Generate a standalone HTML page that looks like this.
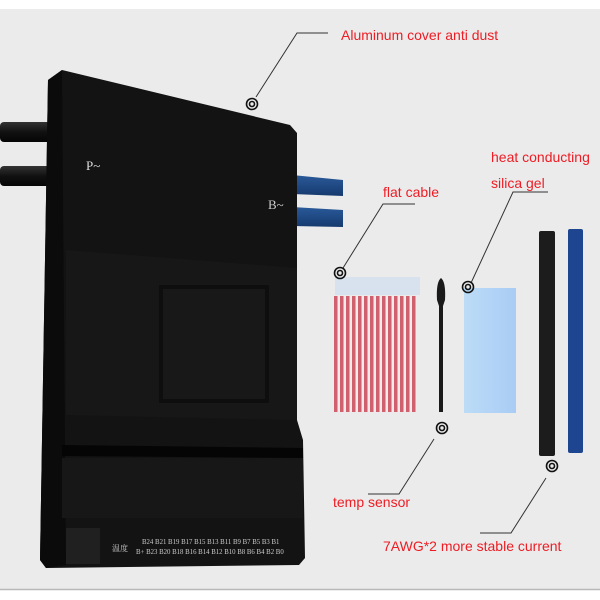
<!DOCTYPE html>
<html><head><meta charset="utf-8"><style>
html,body{margin:0;padding:0;background:#fff}
svg{display:block}
</style></head><body>
<svg width="600" height="600" viewBox="0 0 600 600" xmlns="http://www.w3.org/2000/svg" font-family="Liberation Sans, Arial, sans-serif">
<defs>
<linearGradient id="gel" x1="0" x2="1"><stop offset="0" stop-color="#bcdcf6"/><stop offset="1" stop-color="#a9ccf5"/></linearGradient>
<linearGradient id="cab" x1="0" y1="0" x2="0" y2="1"><stop offset="0" stop-color="#333"/><stop offset="0.5" stop-color="#111"/><stop offset="1" stop-color="#050505"/></linearGradient>
<linearGradient id="bcab" x1="0" y1="0" x2="0" y2="1"><stop offset="0" stop-color="#2a5a9a"/><stop offset="1" stop-color="#163a6e"/></linearGradient>
</defs>
<rect x="0" y="0" width="600" height="600" fill="#fff"/>
<rect x="0" y="9" width="600" height="580" fill="#ebebeb"/>
<line x1="0" y1="589.5" x2="600" y2="589.5" stroke="#b8b8b8" stroke-width="1.5"/>

<rect x="0" y="122" width="62" height="20" rx="4" fill="url(#cab)"/>
<rect x="0" y="166" width="62" height="20" rx="4" fill="url(#cab)"/>
<polygon points="292,175 343,180 343,196 292,194" fill="url(#bcab)"/>
<polygon points="292,207 343,210 343,227 292,226" fill="url(#bcab)"/>

<polygon points="48,80 62,70 290,125 297,133 297,420 303,440 305,558 299,565 46,568 40,560" fill="#131313"/>
<polygon points="48,80 62,70 66,565 46,568 40,560" fill="#0b0b0b"/>
<polygon points="66,250 297,268 297,420 66,415" fill="#171717"/>
<rect x="159" y="285" width="110" height="118" fill="#0e0e0e"/>
<rect x="163" y="289" width="102" height="110" fill="#181818"/>
<polygon points="62,445 303,448 303,458 62,456" fill="#050505"/>
<rect x="62" y="458" width="241" height="60" fill="#171717"/>
<rect x="66" y="528" width="34" height="36" fill="#202020"/>
<text x="86" y="170" style="font-family:'Liberation Serif',serif" font-size="13" fill="#ddd">P~</text>
<text x="268" y="209" style="font-family:'Liberation Serif',serif" font-size="13" fill="#ccc">B~</text>
<text x="112" y="551" style="font-family:'Liberation Serif','Noto Serif CJK SC',serif" font-size="8" fill="#ccc">温度</text>
<text x="142" y="544" style="font-family:'Liberation Serif',serif" font-size="6.8" fill="#ccc">B24 B21 B19 B17 B15 B13 B11 B9 B7 B5 B3 B1</text>
<text x="136" y="554" style="font-family:'Liberation Serif',serif" font-size="6.8" fill="#ccc">B+ B23 B20 B18 B16 B14 B12 B10 B8 B6 B4 B2 B0</text>

<rect x="335" y="277" width="85" height="18" fill="#d8e2ee"/>
<g fill="#d0606e">
<rect x="334" y="296" width="3.5" height="116"/><rect x="340" y="296" width="3.5" height="116"/><rect x="346" y="296" width="3.5" height="116"/><rect x="352" y="296" width="3.5" height="116"/><rect x="358" y="296" width="3.5" height="116"/><rect x="364" y="296" width="3.5" height="116"/><rect x="370" y="296" width="3.5" height="116"/><rect x="376" y="296" width="3.5" height="116"/><rect x="382" y="296" width="3.5" height="116"/><rect x="388" y="296" width="3.5" height="116"/><rect x="394" y="296" width="3.5" height="116"/><rect x="400" y="296" width="3.5" height="116"/><rect x="406" y="296" width="3.5" height="116"/><rect x="412" y="296" width="3.5" height="116"/>
</g>
<path d="M437,300 Q436,282 441,278 Q446,282 445,300 L443,306 L443,412 L439,412 L439,306 Z" fill="#1a1a1a"/>
<rect x="464" y="288" width="52" height="125" fill="url(#gel)"/>
<rect x="539" y="231" width="16" height="225" rx="2" fill="#1c1c1c"/>
<rect x="568" y="229" width="15" height="224" rx="2" fill="#1e4690"/>

<g fill="none" stroke="#333" stroke-width="1">
<polyline points="256,97 297,33 328,33"/>
<polyline points="343,268 383,204 415,204"/>
<polyline points="471,283 513,192 548,192"/>
<polyline points="434,439 399,494 368,494"/>
<polyline points="546,478 511,533 480,533"/>
</g>
<g fill="none" stroke="#111" stroke-width="1.6">
<circle cx="252" cy="104" r="5.5"/><circle cx="252" cy="104" r="2.5"/>
<circle cx="340" cy="273" r="5.5"/><circle cx="340" cy="273" r="2.5"/>
<circle cx="468" cy="287" r="5.5"/><circle cx="468" cy="287" r="2.5"/>
<circle cx="442" cy="428" r="5.5"/><circle cx="442" cy="428" r="2.5"/>
<circle cx="552" cy="466" r="5.5"/><circle cx="552" cy="466" r="2.5"/>
</g>
<g fill="#ee1c24" font-size="14">
<text x="341" y="40">Aluminum cover anti dust</text>
<text x="383" y="197">flat cable</text>
<text x="491" y="162">heat conducting</text>
<text x="491" y="188">silica gel</text>
<text x="333" y="507">temp sensor</text>
<text x="383" y="551">7AWG*2 more stable current</text>
</g>
</svg>
</body></html>
